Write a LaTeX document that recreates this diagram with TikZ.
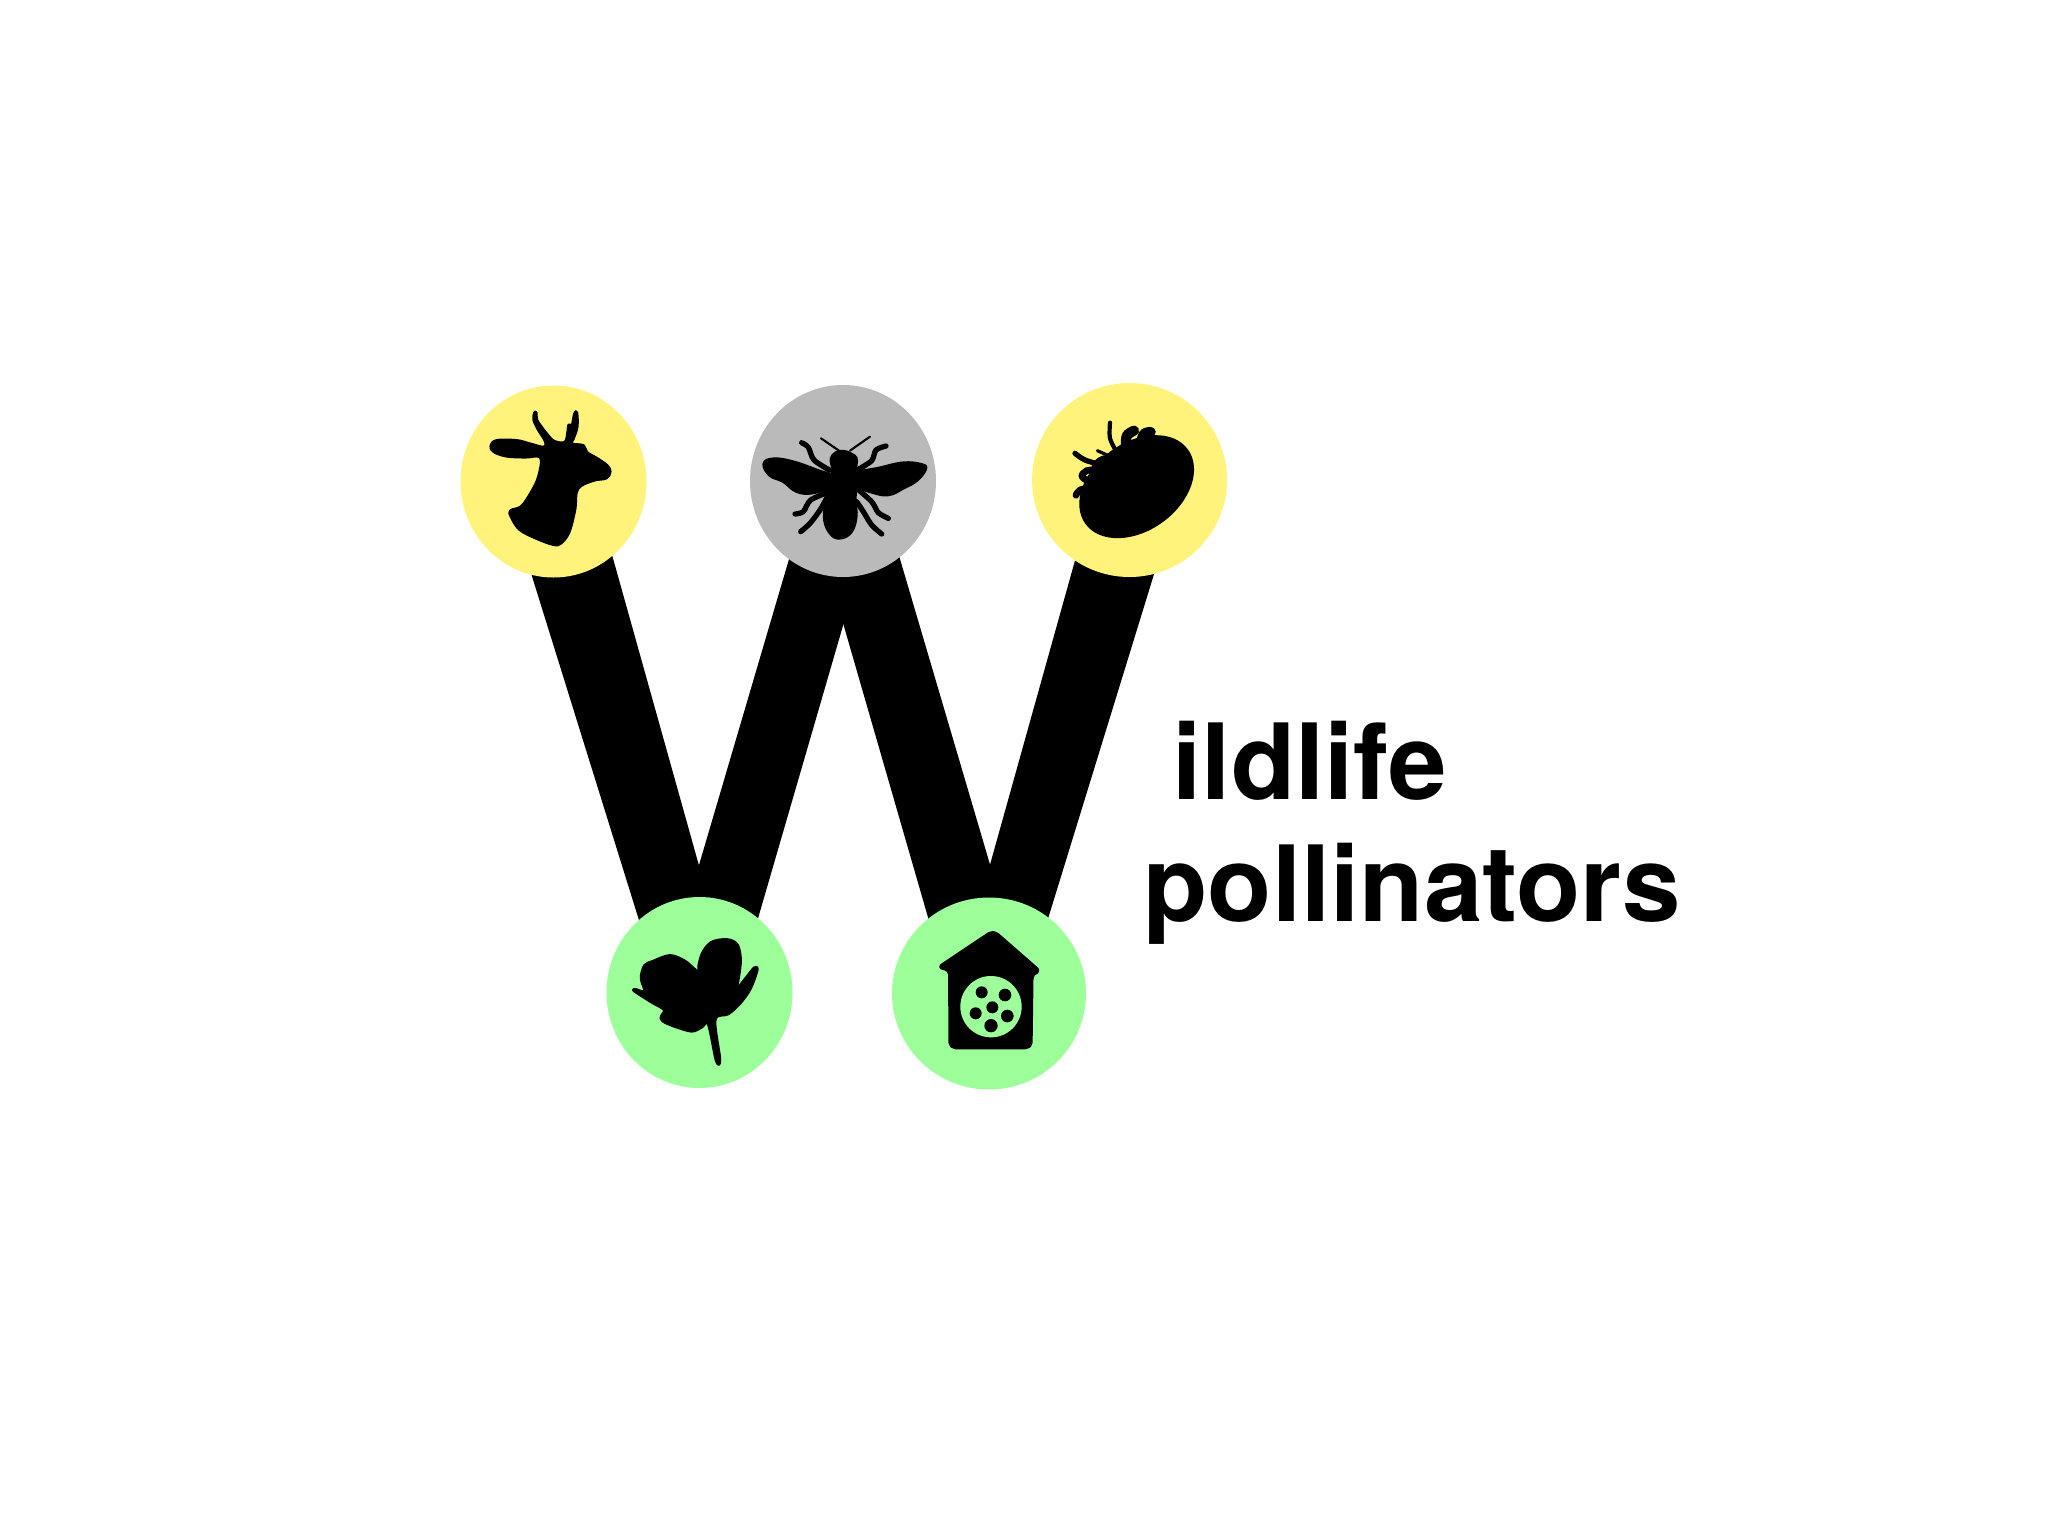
\documentclass[tikz,border=0pt]{standalone}
\usepackage{fontspec}
\setmainfont{TeX Gyre Heros}
\usetikzlibrary{shapes.geometric,backgrounds,calc}
\definecolor{wYellow}{HTML}{FFF37C}
\definecolor{wGrey}{HTML}{BABABA}
\definecolor{wGreen}{HTML}{9CFF99}
\tikzset{
	badge/.style={ellipse, inner sep=0pt, minimum width=#1},
	wlabel/.style={inner sep=0pt, anchor=base west, font=\fontsize{29.9}{32}\selectfont\bfseries},
	icon/.style={fill=black, draw=black, line width=0.9pt},
	legline/.style={line width=1.5pt, line cap=round, line join=round},
	sepal/.style={line cap=round, line join=round},
}
% one stroke of the W, from badge to badge
\newcommand{\wbar}[6]{\fill ($(#1.center)+(#2,0)$) -- ($(#1.center)+(#3,0)$) -- ($(#4.center)+(#5,0)$) -- ($(#4.center)+(#6,0)$) -- cycle;}
\begin{document}
\begin{tikzpicture}[x=0.01cm, y=-0.01cm, line join=round, line cap=round]
	\useasboundingbox (0,0) rectangle (2048,1536);
	
	% Five badges
	\node[badge=186*0.01cm, minimum height=192*0.01cm, fill=wYellow] (deer) at (553.5,481.5) {};
	\node[badge=186*0.01cm, minimum height=192*0.01cm, fill=wGrey] (bee) at (843,481) {};
	\node[badge=195*0.01cm, minimum height=194*0.01cm, fill=wYellow] (tomato) at (1129.5,480) {};
	\node[badge=186*0.01cm, minimum height=191*0.01cm, fill=wGreen] (flower) at (699.5,992.5) {};
	\node[badge=194*0.01cm, minimum height=192*0.01cm, fill=wGreen] (house) at (989,993.5) {};
	
	% The W behind the badges
	\begin{scope}[on background layer]
		\wbar{deer}{-51}{38}{flower}{35}{-38}
		\wbar{flower}{-38}{37}{bee}{42}{-31}
		\wbar{bee}{-41}{34}{house}{39}{-39}
		\wbar{house}{-35}{36}{tomato}{53.5}{-32}
	\end{scope}
	
	% Deer
	\begin{scope}[shift={(450,370)}, scale=1/3]
		\filldraw[icon] plot[smooth cycle, tension=0.6] coordinates {(123,228) (140,212) (200,212) (240,222) (282,232) (287,215) (266,180) (252,150) (254,129) (258,129) (260,150) (273,170) (290,192) (312,214) (345,217) (354,185) (356,166) (362,167) (366,172) (374,132) (380,129) (381,170) (370,205) (365,222) (400,227) (410,247) (443,267) (471,287) (480,305) (468,324) (430,331) (383,356) (374,420) (356,488) (331,520) (310,523) (260,505) (209,478) (184,440) (182,422) (214,410) (244,367) (266,320) (272,262) (225,261) (170,258) (132,245)};
	\end{scope}
	
	% Bee
	\begin{scope}[shift={(740,370)}, scale=1/3]
		\filldraw[icon] plot[smooth cycle, tension=0.7] coordinates {(274,265) (287,249) (310,244) (333,252) (348,264) (348,285) (345,310) (348,345) (345,390) (348,440) (333,486) (300,504) (272,491) (254,450) (258,400) (272,350) (278,305) (276,285)};
		\filldraw[icon] plot[smooth cycle, tension=0.7] coordinates {(72,282) (100,267) (160,276) (240,304) (280,318) (280,345) (220,368) (170,364) (130,334) (90,316)};
		\filldraw[icon] plot[smooth cycle, tension=0.7] coordinates {(345,312) (420,294) (490,279) (545,284) (556,298) (530,331) (490,354) (445,374) (395,366) (345,345)};
		\draw[legline] plot[smooth] coordinates {(185,218) (205,232) (222,270) (268,300)};
		\draw[legline] plot[smooth] coordinates {(438,228) (408,240) (395,272) (355,298)};
		\draw[legline] plot[smooth] coordinates {(165,432) (190,425) (212,390) (270,365)};
		\draw[legline] plot[smooth] coordinates {(445,445) (415,428) (395,395) (350,355)};
		\draw[legline] plot[smooth] coordinates {(182,485) (210,460) (240,420) (265,375)};
		\draw[legline] plot[smooth] coordinates {(425,492) (395,465) (370,425) (350,395)};
		\draw[line width=0.6pt] (243,205) -- (297,242);
		\draw[line width=0.6pt] (390,200) -- (330,242);
	\end{scope}
	
	% Tomato
	\begin{scope}[shift={(1020,370)}, scale=1/3]
		\fill[black, rotate around={36:(350,350)}] (350,350) ellipse (190 and 132);
		\fill[black] (262,305) circle (50);
		\fill[black] (235,375) circle (50);
		\draw[sepal, line width=1.2pt] plot[smooth] coordinates {(270,158) (270,205) (292,250)};
		\draw[sepal, line width=1.5pt] plot[smooth] coordinates {(165,250) (195,270) (255,288)};
		\draw[sepal, line width=0.9pt] (232,242) -- (268,258);
		\draw[sepal, line width=1.9pt] plot[smooth] coordinates {(245,298) (200,302) (186,320) (215,340)};
		\draw[sepal, line width=1.9pt] plot[smooth] coordinates {(225,350) (180,360) (168,376)};
		\draw[sepal, line width=2.9pt] plot[smooth] coordinates {(318,240) (320,198) (342,182)};
		\draw[sepal, line width=2.9pt] plot[smooth] coordinates {(360,225) (372,192) (392,186)};
	\end{scope}
	
	% Flower
	\begin{scope}[shift={(595,885)}, scale=1/3]
		\filldraw[icon] plot[smooth cycle, tension=0.55] coordinates {(312,240) (324,202) (350,172) (395,164) (426,179) (436,225) (428,290) (420,320) (455,277) (478,249) (486,255) (466,310) (436,353) (400,386) (360,404) (374,523) (364,526) (340,416) (320,426) (290,438) (240,424) (204,408) (199,395) (208,374) (170,351) (119,318) (122,314) (150,320) (139,280) (149,242) (175,229) (225,212) (270,229) (310,262)};
	\end{scope}
	
	% Bee house
	\begin{scope}[shift={(885,885)}, scale=1/3]
		\filldraw[icon, rounded corners=1.5pt] (325,137) -- (466,260) -- (441,264) -- (438,488) -- (195,488) -- (194,253) -- (159,248) -- cycle;
		\fill[wGreen] (318,365) circle (92);
		\foreach \hx/\hy/\hr in {290/322/18, 360/330/19, 322/367/18, 272/385/18, 367/393/19, 318/422/20}
			\fill[black] (\hx,\hy) circle (\hr);
	\end{scope}
	
	% Labels
	\node[wlabel] (ildlife) at (1172,799) {ildlife};
	\node[wlabel] (pollinators) at (1143,921) {pollinators};
\end{tikzpicture}
\end{document}
